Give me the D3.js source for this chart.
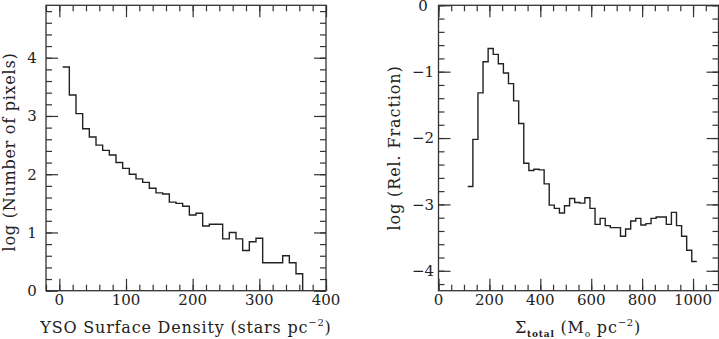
<!DOCTYPE html>
<head>
  <meta charset="utf-8">
  <style>
    body { margin: 0; background: #fff; }
    text { font-family: "DejaVu Serif", serif; fill: #222; }
  </style>
</head>
<body>
<script src="https://d3js.org/d3.v7.min.js"></script>
<script>

    // Left panel: YSO surface density, bin centers and log(number of pixels)
    var ysoBins = [10, 20, 30, 40, 50, 60, 70, 80, 90, 100, 110, 120,
                   130, 140, 150, 160, 170, 180, 190, 200, 210, 220, 230, 240,
                   250, 260, 270, 280, 290, 300, 310, 320, 330, 340, 350, 360];
    var ysoLogN = [3.84, 3.36, 3.04, 2.78, 2.64, 2.50, 2.41, 2.33, 2.20, 2.10, 2.00, 1.92,
                   1.86, 1.76, 1.68, 1.66, 1.52, 1.50, 1.45, 1.30, 1.33, 1.11, 1.14, 1.14,
                   0.89, 1.00, 0.89, 0.69, 0.84, 0.90, 0.48, 0.48, 0.48, 0.60, 0.48, 0.29];
    var ysoTicksX = [0, 100, 200, 300, 400];
    var ysoTicksY = [0, 1, 2, 3, 4];

    // Right panel: total surface density, bin centers and log(rel. fraction)
    var sigmaBins = [125, 145, 165, 185, 205, 225, 245, 265, 285, 305, 325, 345,
                     365, 385, 405, 425, 445, 465, 485, 505, 525, 545, 565, 585,
                     605, 625, 645, 665, 685, 705, 725, 745, 765, 785, 805, 825,
                     845, 865, 885, 905, 925, 945, 965, 985, 1005];
    var sigmaLogF = [-2.73, -2.02, -1.32, -0.85, -0.65, -0.74, -0.88, -1.02, -1.18, -1.44, -1.78, -2.38,
                     -2.49, -2.47, -2.48, -2.69, -3.01, -3.06, -3.13, -3.02, -2.91, -2.97, -2.98, -2.90,
                     -3.06, -3.30, -3.21, -3.32, -3.35, -3.35, -3.48, -3.37, -3.25, -3.21, -3.31, -3.29,
                     -3.21, -3.19, -3.19, -3.30, -3.12, -3.32, -3.48, -3.69, -3.86];
    var sigmaTicksX = [0, 200, 400, 600, 800, 1000];
    var sigmaTicksY = [0, -1, -2, -3, -4];

    var W = 719, H = 339,
        plotTop = 5.3, plotBottom = 290.7,
        majorLen = 12, minorLen = 6,
        fontSize = 15, titleSize = 16;

    var svg = d3.select("body").append("svg")
        .attr("width", W)
        .attr("height", H);

    function panel(opt) {
      var g = svg.append("g");
      var x = d3.scaleLinear().domain(opt.xDomain).range([opt.x0, opt.x1]);
      var y = d3.scaleLinear().domain(opt.yDomain).range([plotBottom, plotTop]);

      var minorX = d3.range(opt.xDomain[0], opt.xDomain[1] + 0.001, opt.xMinor),
          minorY = d3.range(Math.ceil(opt.yDomain[0] / 0.2 - 0.001) * 0.2, opt.yDomain[1] + 0.001, 0.2);

      function tickAxis(axisFn, scale, vals, len, pos) {
        var a = g.append("g")
            .attr("transform", pos)
            .call(axisFn(scale).tickValues(vals).tickSize(-len).tickFormat(""));
        a.select(".domain").remove();
        a.selectAll("line").attr("stroke", "#333").attr("stroke-width", 1.2);
        return a;
      }

      // ticks on all four sides, pointing inward
      [[minorLen, minorX, minorY], [majorLen, opt.xTicks, opt.yTicks]].forEach(function(t) {
        tickAxis(d3.axisBottom, x, t[1], t[0], "translate(0," + plotBottom + ")");
        tickAxis(d3.axisTop, x, t[1], t[0], "translate(0," + plotTop + ")");
        tickAxis(d3.axisLeft, y, t[2], t[0], "translate(" + opt.x0 + ",0)");
        tickAxis(d3.axisRight, y, t[2], t[0], "translate(" + opt.x1 + ",0)");
      });

      // frame
      g.append("rect")
          .attr("x", opt.x0)
          .attr("y", plotTop)
          .attr("width", opt.x1 - opt.x0)
          .attr("height", plotBottom - plotTop)
          .attr("fill", "none")
          .attr("stroke", "#333")
          .attr("stroke-width", 1.3);

      // tick labels
      g.selectAll(".xlab")
          .data(opt.xTicks)
        .enter().append("text")
          .attr("x", function(d) { return x(d); })
          .attr("y", plotBottom + 14.5)
          .attr("text-anchor", "middle")
          .style("font-size", fontSize + "px")
          .text(function(d) { return d; });

      g.selectAll(".ylab")
          .data(opt.yTicks)
        .enter().append("text")
          .attr("x", opt.ylabX)
          .attr("y", function(d) { return y(d); })
          .attr("dy", "0.36em")
          .attr("text-anchor", "middle")
          .style("font-size", fontSize + "px")
          .text(function(d) { return d3.format("d")(d); });

      // histogram as a stepped line
      var pts = [];
      opt.bins.forEach(function(c, i) {
        pts.push([c - opt.binW / 2, opt.vals[i]]);
        pts.push([c + opt.binW / 2, opt.vals[i]]);
      });
      if (opt.dropTo !== undefined) pts.push([pts[pts.length - 1][0], opt.dropTo]);

      var line = d3.line()
          .x(function(d) { return x(d[0]); })
          .y(function(d) { return y(d[1]); });

      g.append("path")
          .datum(pts)
          .attr("d", line)
          .attr("fill", "none")
          .attr("stroke", "#222")
          .attr("stroke-width", 1.4);

      return g;
    }

    panel({
      x0: 46, x1: 326,
      xDomain: [-20, 400], yDomain: [0, 4.9],
      xMinor: 20,
      xTicks: ysoTicksX, yTicks: ysoTicksY,
      ylabX: 32,
      bins: ysoBins, vals: ysoLogN, binW: 10, dropTo: 0
    });

    panel({
      x0: 438.5, x1: 718.5,
      xDomain: [0, 1100], yDomain: [-4.3, 0],
      xMinor: 50,
      xTicks: sigmaTicksX, yTicks: sigmaTicksY,
      ylabX: 423,
      bins: sigmaBins, vals: sigmaLogF, binW: 20
    });

    // axis titles
    var t1 = svg.append("text")
        .attr("x", 186)
        .attr("y", 333)
        .attr("text-anchor", "middle")
        .style("font-size", titleSize + "px")
        .style("letter-spacing", "0.8px")
        .text("YSO Surface Density (stars pc");
    t1.append("tspan").attr("dy", -7).style("font-size", "10px").text("−2");
    t1.append("tspan").attr("dy", 7).text(")");

    var t2 = svg.append("text")
        .attr("x", 578)
        .attr("y", 333)
        .attr("text-anchor", "middle")
        .style("font-size", titleSize + "px")
        .style("letter-spacing", "0.8px")
        .text("Σ");
    t2.append("tspan").attr("dy", 4).style("font-size", "9px").style("font-weight", "bold").text("total");
    t2.append("tspan").attr("dy", -4).text(" (M");
    t2.append("tspan").attr("dy", 4).style("font-size", "9px").text("o");
    t2.append("tspan").attr("dy", -4).text(" pc");
    t2.append("tspan").attr("dy", -7).style("font-size", "10px").text("−2");
    t2.append("tspan").attr("dy", 7).text(")");

    svg.append("text")
        .attr("transform", "translate(15,152) rotate(-90)")
        .attr("text-anchor", "middle")
        .style("font-size", titleSize + "px")
        .style("letter-spacing", "0.75px")
        .text("log (Number of pixels)");

    svg.append("text")
        .attr("transform", "translate(400,148) rotate(-90)")
        .attr("text-anchor", "middle")
        .style("font-size", titleSize + "px")
        .style("letter-spacing", "0.9px")
        .text("log (Rel. Fraction)");

</script>
</body>
